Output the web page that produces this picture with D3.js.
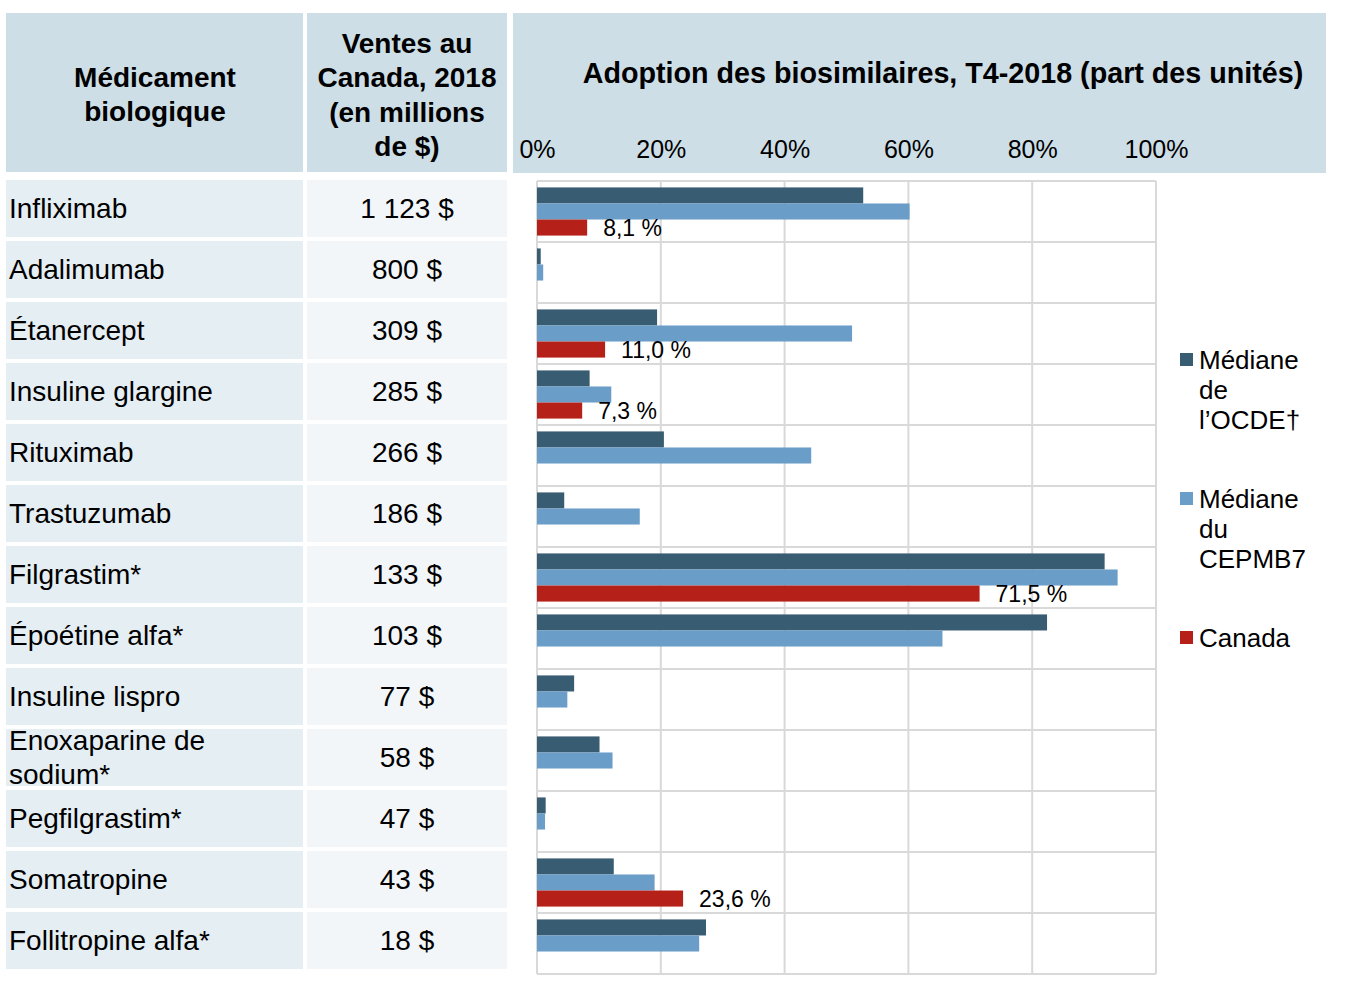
<!DOCTYPE html>
<html>
<head>
<meta charset="utf-8">
<script src="https://cdn.jsdelivr.net/npm/d3@7"></script>
<style>
  body { margin: 0; background: #fff; }
  svg text { font-family: "Liberation Sans", Arial, sans-serif; fill: #000; }
</style>
</head>
<body>
<svg id="chart" width="1362" height="1006"></svg>
<script>
// table / chart data
const drugs = [
    ["Infliximab"], ["Adalimumab"], ["Étanercept"], ["Insuline glargine"], ["Rituximab"],
    ["Trastuzumab"], ["Filgrastim*"], ["Époétine alfa*"], ["Insuline lispro"],
    ["Enoxaparine de", "sodium*"], ["Pegfilgrastim*"], ["Somatropine"], ["Follitropine alfa*"]
];
const sales = [1123, 800, 309, 285, 266, 186, 133, 103, 77, 58, 47, 43, 18];
const oecdMedian = [52.7, 0.6, 19.4, 8.5, 20.5, 4.4, 91.7, 82.4, 6.0, 10.1, 1.4, 12.4, 27.3];
const pmprb7Median = [60.2, 1.0, 50.9, 12.0, 44.3, 16.6, 93.8, 65.5, 4.9, 12.2, 1.3, 19.0, 26.2];
const canada = [8.1, null, 11.0, 7.3, null, null, 71.5, null, null, null, null, 23.6, null];
const xTicks = [0, 20, 40, 60, 80, 100];

const series = [
    { key: "oecd", label: ["Médiane", "de", "l’OCDE†"], color: "#385c71", values: oecdMedian },
    { key: "pmprb", label: ["Médiane", "du", "CEPMB7"], color: "#6a9ec8", values: pmprb7Median },
    { key: "canada", label: ["Canada"], color: "#b52018", values: canada }
];

const svg = d3.select("#chart");

// french number formatting
const fr = d3.formatLocale({ decimal: ",", thousands: " ", grouping: [3], currency: ["", " $"] });
const fmtSales = fr.format("$,");
const fmtPct = v => fr.format(".1f")(v) + " %";

// scales
const plot = { left: 537, right: 1156, top: 181, bottom: 974 };
const x = d3.scaleLinear().domain([0, 100]).range([plot.left, plot.right]);
const y = d3.scaleBand().domain(d3.range(drugs.length)).range([plot.top, plot.bottom]);
const ySeries = d3.scaleBand().domain(series.map(s => s.key))
    .range([0, y.bandwidth()]).paddingOuter(0.4);

// header cells
const headerFill = "#cddee6";
svg.append("rect").attr("x", 6).attr("y", 13).attr("width", 297).attr("height", 159).attr("fill", headerFill);
svg.append("rect").attr("x", 307).attr("y", 13).attr("width", 200).attr("height", 159).attr("fill", headerFill);
svg.append("rect").attr("x", 513).attr("y", 13).attr("width", 813).attr("height", 160).attr("fill", headerFill);

function multiline(sel, lines, cx, cy, step) {
    const t = sel.append("text")
        .attr("text-anchor", "middle")
        .attr("font-size", "28px")
        .attr("font-weight", "bold");
    lines.forEach((l, i) => {
        t.append("tspan")
            .attr("x", cx)
            .attr("y", cy + (i - (lines.length - 1) / 2) * step)
            .attr("dominant-baseline", "central")
            .text(l);
    });
}
multiline(svg, ["Médicament", "biologique"], 155, 94, 34);
multiline(svg, ["Ventes au", "Canada, 2018", "(en millions", "de $)"], 407, 95, 34.5);

svg.append("text")
    .attr("x", 943).attr("y", 73)
    .attr("text-anchor", "middle")
    .attr("dominant-baseline", "central")
    .attr("font-size", "28.7px")
    .attr("font-weight", "bold")
    .text("Adoption des biosimilaires, T4-2018 (part des unités)");

// x tick labels inside the header
const xAxis = svg.append("g")
    .attr("transform", `translate(0, 158)`)
    .call(d3.axisTop(x).tickValues(xTicks).tickSize(0).tickPadding(0).tickFormat(d => d + "%"));
xAxis.select(".domain").remove();
xAxis.selectAll("text")
    .attr("font-size", "25px")
    .attr("font-family", "\"Liberation Sans\", Arial, sans-serif")
    .attr("fill", "#000");

// table body rows
const rows = svg.append("g").selectAll("g.row")
    .data(drugs.map((d, i) => ({ name: d, sales: sales[i], i })))
    .join("g")
    .attr("class", "row");

rows.append("rect")
    .attr("x", 6).attr("width", 297)
    .attr("y", d => y(d.i) - 1).attr("height", y.bandwidth() - 4)
    .attr("fill", "#e5eef3");
rows.append("rect")
    .attr("x", 307).attr("width", 200)
    .attr("y", d => y(d.i) - 1).attr("height", y.bandwidth() - 4)
    .attr("fill", "#f2f6f9");

rows.each(function (d) {
    const g = d3.select(this);
    const cy = y(d.i) + y.bandwidth() / 2 - 3.5;
    const t = g.append("text").attr("font-size", "28px");
    d.name.forEach((l, k) => {
        t.append("tspan")
            .attr("x", 9)
            .attr("y", cy + (k - (d.name.length - 1) / 2) * 34)
            .attr("dominant-baseline", "central")
            .text(l);
    });
    g.append("text")
        .attr("x", 407).attr("y", cy)
        .attr("text-anchor", "middle")
        .attr("dominant-baseline", "central")
        .attr("font-size", "28px")
        .text(fmtSales(d.sales));
});

// gridlines
const grid = svg.append("g");
grid.selectAll("line.v")
    .data(xTicks)
    .join("line")
    .attr("x1", d => x(d)).attr("x2", d => x(d))
    .attr("y1", plot.top).attr("y2", plot.bottom)
    .attr("stroke", "#d9d9d9").attr("stroke-width", 2);
grid.selectAll("line.h")
    .data(d3.range(drugs.length + 1))
    .join("line")
    .attr("x1", plot.left).attr("x2", plot.right)
    .attr("y1", d => plot.top + d * y.step()).attr("y2", d => plot.top + d * y.step())
    .attr("stroke", "#d9d9d9").attr("stroke-width", 2);

// bars
series.forEach(s => {
    const data = s.values.map((v, i) => ({ v, i })).filter(d => d.v != null);
    svg.append("g").selectAll("rect")
        .data(data)
        .join("rect")
        .attr("x", x(0))
        .attr("y", d => y(d.i) + ySeries(s.key))
        .attr("width", d => x(d.v) - x(0))
        .attr("height", ySeries.bandwidth())
        .attr("fill", s.color);
});

// canada value labels
svg.append("g").selectAll("text")
    .data(canada.map((v, i) => ({ v, i })).filter(d => d.v != null))
    .join("text")
    .attr("x", d => x(d.v) + 16)
    .attr("y", d => y(d.i) + ySeries("canada") + ySeries.bandwidth() / 2 + 0.5)
    .attr("dominant-baseline", "central")
    .attr("font-size", "23px")
    .text(d => fmtPct(d.v));

// legend
const legend = svg.append("g").attr("transform", "translate(1180, 360)");
series.forEach((s, k) => {
    const g = legend.append("g").attr("transform", `translate(0, ${k * 139})`);
    g.append("rect").attr("x", 0).attr("y", -7).attr("width", 13).attr("height", 13).attr("fill", s.color);
    const t = g.append("text").attr("font-size", "26px");
    s.label.forEach((l, j) => {
        t.append("tspan")
            .attr("x", 19).attr("y", j * 30)
            .attr("dominant-baseline", "central")
            .text(l);
    });
});
</script>
</body>
</html>
